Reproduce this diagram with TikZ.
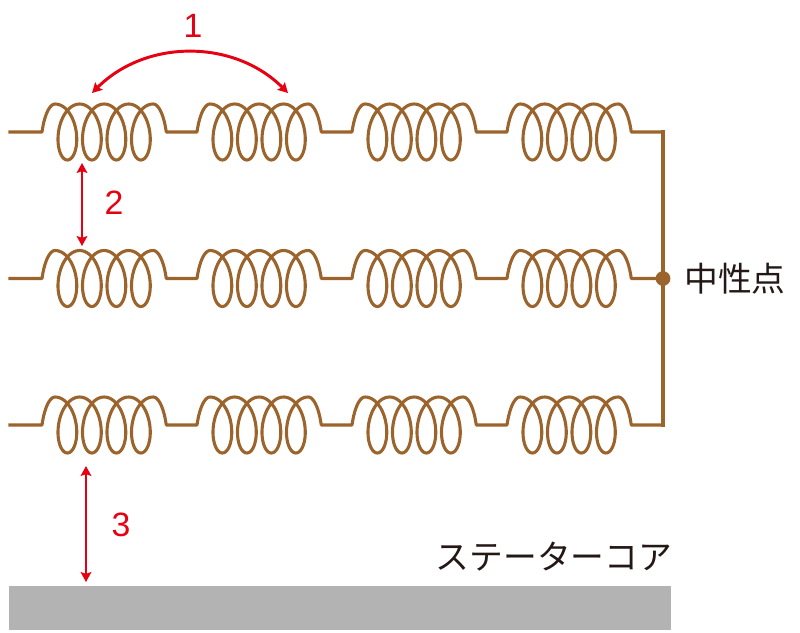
\documentclass[tikz,border=0pt]{standalone}
\usepackage{fontspec}
\setmainfont{Liberation Sans}
\newfontfamily\jpfont{Noto Sans CJK JP}
\usepackage{tikz}
\usetikzlibrary{arrows.meta}
\definecolor{wirebrown}{RGB}{155,100,45}
\definecolor{gapred}{RGB}{230,0,18}
\definecolor{coregray}{RGB}{179,179,180}
\definecolor{inkblack}{RGB}{35,24,21}

\newcommand{\coilat}[2]{%
 -- plot[domain=pi/2:pi, samples=15] ({#1+3.9*(\x-pi/2)-7*sin(\x r)+7},{#2+28*cos(\x r)})
 -- plot[domain=pi:9*pi, samples=241] ({#1+3.9*(\x-pi/2)-15*sin(\x r)+7},{#2+28*cos(\x r)})
 -- plot[domain=9*pi:9.5*pi, samples=15] ({#1+3.9*(\x-pi/2)-7*sin(\x r)+7},{#2+28*cos(\x r)})}

\begin{document}
\begin{tikzpicture}[x=0.025cm, y=-0.025cm]
\tikzstyle{wire}=[draw=wirebrown, line width=2.2pt, line cap=rect, line join=round]
\tikzstyle{dot}=[circle, fill=wirebrown, inner sep=0pt, minimum size=0.37cm]
\tikzstyle{gap}=[draw=gapred, line width=2.1pt, {Stealth[length=7pt,width=7.5pt,inset=1.2pt]}-{Stealth[length=7pt,width=7.5pt,inset=1.2pt]}]
\tikzstyle{num}=[text=gapred, inner sep=0pt, font=\fontsize{24}{28}\selectfont]
\tikzstyle{jptext}=[text=inkblack, inner sep=0pt, font=\jpfont\fontsize{24}{28}\selectfont]

    \useasboundingbox (0,0) rectangle (800,632);

\foreach \y in {132,278.5,425}{
    \draw[wire] (10,\y) \foreach \k in {0,...,3}{\coilat{42+155*\k}{\y}} -- (663,\y);
}

\coordinate (N1) at (663,132);
\coordinate (N3) at (663,425);
\draw[wire] (N1) -- (N3);
\node[dot] (N) at (663,278.5) {};
\node[jptext, anchor=west] (NL) at (684,278.5) {中性点};

\fill[coregray] (9,586) rectangle (671,630);
\node[jptext] (SC) at (554,557) {ステーターコア};

\coordinate (a1) at (92,93);
\coordinate (b1) at (288,93);
\draw[gap] (a1) to[bend left=45] (b1);
\node[num] (L1) at (193,26) {1};

\coordinate (a2) at (82,163);
\coordinate (b2) at (82,246);
\draw[gap] (a2) -- (b2);
\node[num] (L2) at (114,203) {2};

\coordinate (a3) at (86,466);
\coordinate (b3) at (86,582);
\draw[gap] (a3) -- (b3);
\node[num] (L3) at (121,525) {3};
\end{tikzpicture}
\end{document}
